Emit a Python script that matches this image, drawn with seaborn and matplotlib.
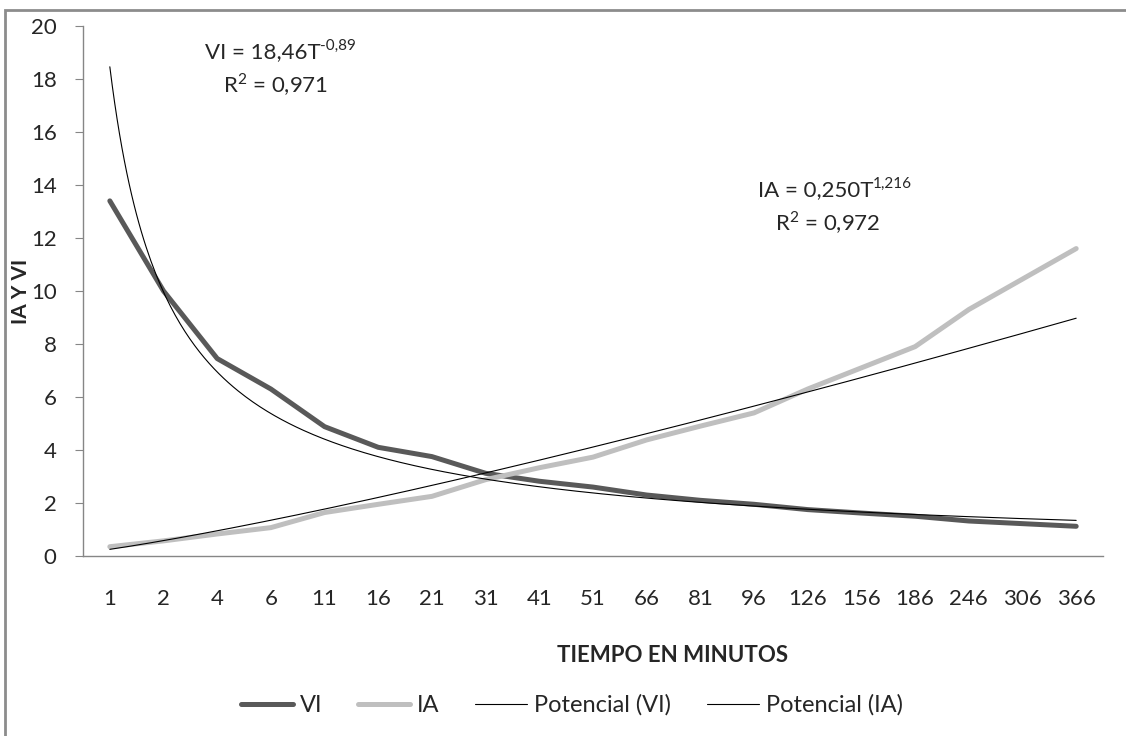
import numpy as np
import pandas as pd
import matplotlib.pyplot as plt
from matplotlib.patches import Rectangle
from matplotlib.lines import Line2D
import seaborn as sns

# tiempos (min) usados como categorias del eje x
tiempo = ['1', '2', '4', '6', '11', '16', '21', '31', '41', '51', '66', '81',
          '96', '126', '156', '186', '246', '306', '366']

# velocidad de infiltracion (VI) e infiltracion acumulada (IA)
vi = [13.4, 10.0, 7.45, 6.3, 4.88, 4.1, 3.75, 3.12, 2.82, 2.6, 2.3, 2.1,
      1.95, 1.75, 1.62, 1.5, 1.32, 1.22, 1.12]
ia = [0.35, 0.57, 0.83, 1.07, 1.64, 1.95, 2.25, 2.88, 3.33, 3.73, 4.38, 4.9,
      5.4, 6.3, 7.1, 7.9, 9.3, 10.45, 11.6]

# coeficientes de las lineas de tendencia potencial (Excel)
vi_a, vi_b = 18.46, -0.89
ia_a, ia_b = 0.250, 1.216

sns.set_style('white')
plt.rcParams['font.family'] = ['Lato', 'DejaVu Sans']

df = pd.DataFrame({'tiempo': tiempo, 'VI': vi, 'IA': ia})
long = df.melt(id_vars='tiempo', var_name='serie', value_name='valor')

fig = plt.figure(figsize=(11.26, 7.36), dpi=100)
ax = fig.add_axes([0.0737, 0.2446, 0.9059, 0.7201])

sns.lineplot(data=long, x='tiempo', y='valor', hue='serie', sort=False,
             palette={'VI': '#595959', 'IA': '#bfbfbf'}, linewidth=3.6,
             ax=ax, legend=False)

# tendencias evaluadas sobre el indice de categoria (1..19), como hace Excel
t = np.linspace(1, len(tiempo), 400)
ax.plot(t - 1, vi_a * t ** vi_b, color='black', lw=0.8)
ax.plot(t - 1, ia_a * t ** ia_b, color='black', lw=0.8)

ax.set_xlim(-0.5, len(tiempo) - 0.5)
ax.set_ylim(0, 20)
ax.set_yticks(range(0, 21, 2))
ax.tick_params(axis='y', which='major', left=True, length=6, color='#868686',
               labelsize=16, pad=13)
ax.tick_params(axis='x', bottom=False, labelsize=16, pad=20)
for s in ['top', 'right']:
    ax.spines[s].set_visible(False)
for s in ['left', 'bottom']:
    ax.spines[s].set_color('#868686')
    ax.spines[s].set_linewidth(1.0)

ax.set_xlabel('TIEMPO EN MINUTOS', fontsize=16, fontweight='bold')
ax.xaxis.set_label_coords(0.578, -0.168)
ax.set_ylabel('IA Y VI', fontsize=15, fontweight='bold')
ax.yaxis.set_label_coords(-0.051, 0.5)


def ecuacion(x, y, base, expo):
    txt = ax.text(x, y, base, transform=ax.transAxes, ha='center', va='center',
                  fontsize=16)
    ax.annotate(expo, xy=(1.0, 0.82), xycoords=txt, ha='left', va='center',
                fontsize=11)


ecuacion(0.176, 0.951, 'VI = 18,46T', '-0,89')
ax.text(0.189, 0.889, r'R$^{\mathregular{2}}$ = 0,971', transform=ax.transAxes,
        ha='center', va='center', fontsize=16)
ecuacion(0.718, 0.69, 'IA = 0,250T', '1,216')
ax.text(0.730, 0.628, r'R$^{\mathregular{2}}$ = 0,972', transform=ax.transAxes,
        ha='center', va='center', fontsize=16)

# leyenda inferior
handles = [Line2D([], [], color='#595959', lw=3.6),
           Line2D([], [], color='#bfbfbf', lw=3.6),
           Line2D([], [], color='black', lw=0.8),
           Line2D([], [], color='black', lw=0.8)]
labels = ['VI', 'IA', 'Potencial (VI)', 'Potencial (IA)']
fig.legend(handles, labels, loc='center', bbox_to_anchor=(0.508, 0.042),
           ncol=4, frameon=False, fontsize=17, handlelength=2.2,
           handletextpad=0.3, columnspacing=1.5)

# marco del area del grafico (se sale por la derecha y abajo)
fig.patches.append(Rectangle((0.0045, -0.05), 1.2, 1.036, transform=fig.transFigure,
                             fill=False, edgecolor='#8c8c8c', lw=2))

fig.savefig('out.png', dpi=100)
